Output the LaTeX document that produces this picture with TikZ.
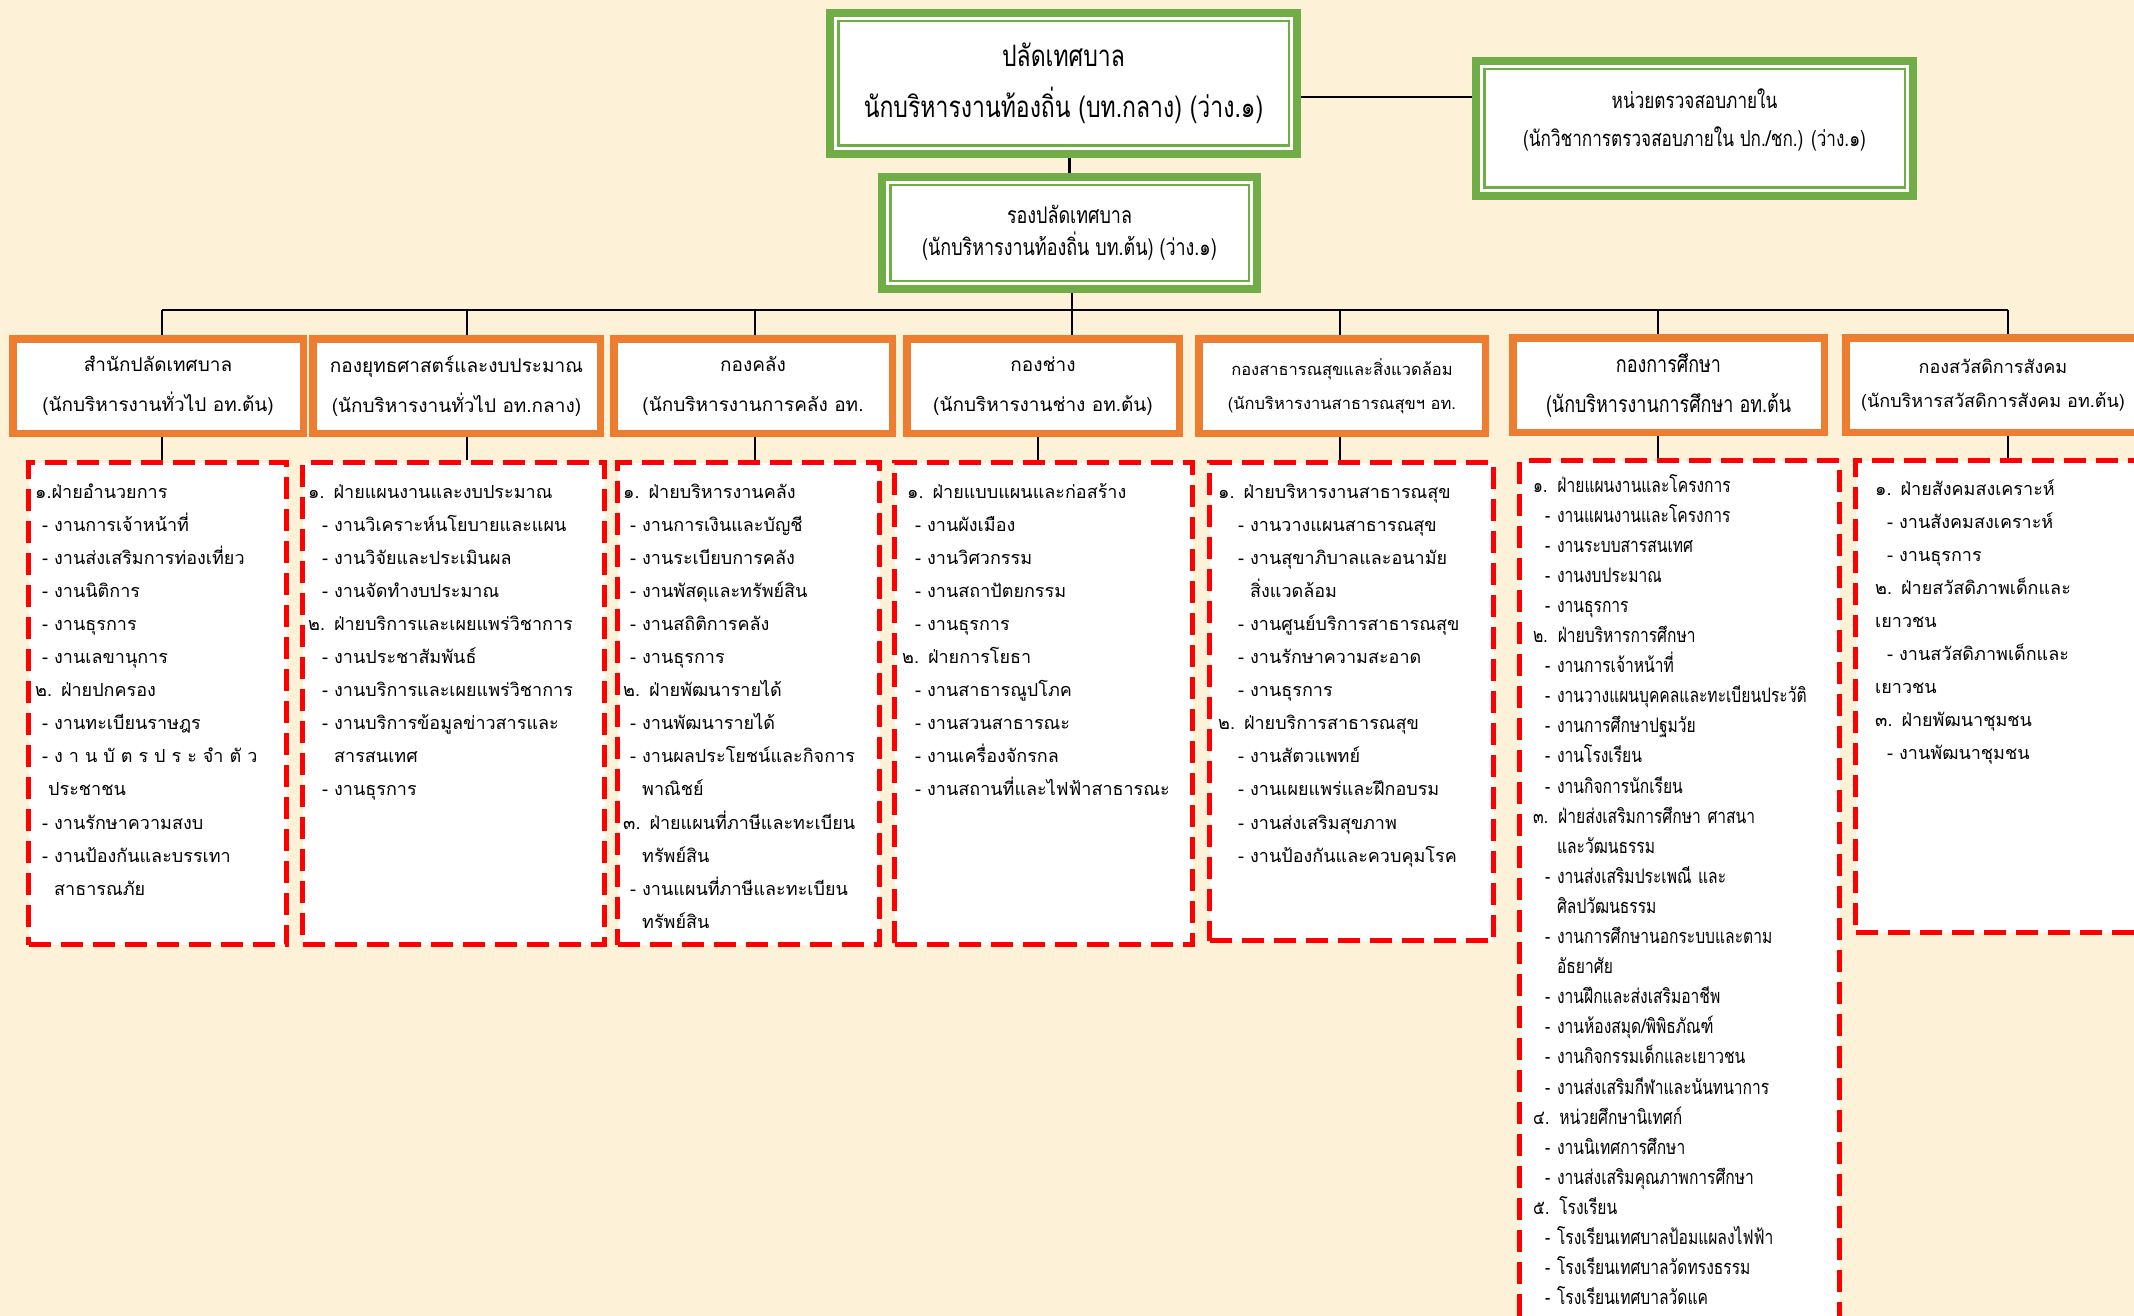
\documentclass[tikz,border=0pt]{standalone}
\usepackage{fontspec}
\newfontfamily\thaifont[Script=Thai]{Loma}
\newfontfamily\thainarrow[Script=Thai,FakeStretch=0.78]{Loma}
\usetikzlibrary{positioning}
\definecolor{greenframe}{RGB}{112,173,71}
\definecolor{orangeframe}{RGB}{237,125,49}
\definecolor{redframe}{RGB}{255,0,0}
\definecolor{parchment}{RGB}{253,242,215}
\newlength{\subind}
\newcommand{\ngan}[1]{\hspace*{\subind}- #1}
\newcommand{\tor}[1]{\hspace*{\subind}\phantom{- }#1}
\newcommand{\innerframe}[1]{\draw[innerline] ([xshift=12.25pt,yshift=-12.25pt]#1.north west) rectangle ([xshift=-12.25pt,yshift=12.25pt]#1.south east);}
\tikzstyle{greenbox} = [draw=greenframe, fill=white, line width=8pt, inner sep=0pt, align=center]
\tikzstyle{innerline} = [draw=greenframe, line width=2.5pt]
\tikzstyle{orangebox} = [draw=orangeframe, fill=white, line width=7.5pt, inner sep=0pt, align=center, minimum height=94.5pt, font=\thaifont\fontsize{19}{39.5}\selectfont]
\tikzstyle{dashbox} = [draw=redframe, fill=white, line width=5pt, dash pattern=on 22pt off 10pt, anchor=north west]
\tikzstyle{link} = [line width=2.5pt]
\tikzset{liste/.style={anchor=base west, inner sep=0pt, text width=330pt, align=left, font=\thaifont\fontsize{18}{33.1}\selectfont, execute at begin node={\setlength{\subind}{#1}}}}

\begin{document}
\begin{tikzpicture}[x=1pt, y=-1pt]
	\useasboundingbox (0,0) rectangle (2134,1316);
	\clip (0,0) rectangle (2134,1316);
	\fill[parchment] (0,0) rectangle (2134,1316);

	% upper management
	\node[greenbox, minimum width=467pt, minimum height=141pt, font=\thainarrow\fontsize{29.5}{51}\selectfont] (palad) at (1063.5,83.5) {ปลัดเทศบาล\\นักบริหารงานท้องถิ่น (บท.กลาง) (ว่าง.๑)};
	\node[greenbox, minimum width=437pt, minimum height=135pt] (audit) at (1694.5,128.5) {};
	\node[align=center, font=\thainarrow\fontsize{22}{38}\selectfont] (audittext) at ([yshift=9pt]audit.center) {หน่วยตรวจสอบภายใน\\(นักวิชาการตรวจสอบภายใน ปก./ชก.) (ว่าง.๑)};
	\node[greenbox, minimum width=375pt, minimum height=112pt, font=\thainarrow\fontsize{23}{32}\selectfont] (rong) at (1069.5,233) {รองปลัดเทศบาล\\(นักบริหารงานท้องถิ่น บท.ต้น) (ว่าง.๑)};
	\innerframe{palad}
	\innerframe{audit}
	\innerframe{rong}

	% divisions
	\node[orangebox, minimum width=290.5pt] (h1) at (158,386) {สำนักปลัดเทศบาล\\(นักบริหารงานทั่วไป อท.ต้น)};
	\node[orangebox, minimum width=287.5pt] (h2) at (456.5,386) {กองยุทธศาสตร์และงบประมาณ\\(นักบริหารงานทั่วไป อท.กลาง)};
	\node[orangebox, minimum width=278.5pt] (h3) at (753,386) {กองคลัง\\(นักบริหารงานการคลัง อท.};
	\node[orangebox, minimum width=272.5pt] (h4) at (1043,386) {กองช่าง\\(นักบริหารงานช่าง อท.ต้น)};
	\node[orangebox, minimum width=286.5pt, font=\thaifont\fontsize{16.5}{34}\selectfont] (h5) at (1342,386) {กองสาธารณสุขและสิ่งแวดล้อม\\(นักบริหารงานสาธารณสุขฯ อท.};
	\node[orangebox, minimum width=311.5pt, font=\thainarrow\fontsize{23}{40}\selectfont] (h6) at (1668.5,385) {กองการศึกษา\\(นักบริหารงานการศึกษา อท.ต้น};
	\node[orangebox, minimum width=294.5pt, font=\thaifont\fontsize{18}{34}\selectfont] (h7) at (1993,385) {กองสวัสดิการสังคม\\(นักบริหารสวัสดิการสังคม อท.ต้น)};

	% sections
	\node[dashbox, minimum width=258pt, minimum height=482pt] (d1) at (26,460) {};
	\node[dashbox, minimum width=302pt, minimum height=482pt] (d2) at (300,460) {};
	\node[dashbox, minimum width=262pt, minimum height=482pt] (d3) at (615,460) {};
	\node[dashbox, minimum width=298pt, minimum height=482pt] (d4) at (892,460) {};
	\node[dashbox, minimum width=284pt, minimum height=478pt] (d5) at (1207,460) {};
	\node[dashbox, minimum width=320pt, minimum height=895pt] (d6) at (1517,458) {};
	\node[dashbox, minimum width=295pt, minimum height=472pt] (d7) at (1853,458) {};

	\node[liste=7pt] (l1) at ([xshift=9pt,yshift=-38pt]d1.north west) {%
		๑.ฝ่ายอำนวยการ\\
		\ngan{งานการเจ้าหน้าที่}\\
		\ngan{งานส่งเสริมการท่องเที่ยว}\\
		\ngan{งานนิติการ}\\
		\ngan{งานธุรการ}\\
		\ngan{งานเลขานุการ}\\
		๒. ฝ่ายปกครอง\\
		\ngan{งานทะเบียนราษฎร}\\
		\ngan{\makebox[213pt][s]{ง า น บั ต ร ป ร ะ จำ ตั ว}}\\
		\hspace*{13pt}ประชาชน\\
		\ngan{งานรักษาความสงบ}\\
		\ngan{งานป้องกันและบรรเทา}\\
		\tor{สาธารณภัย}};
	\node[liste=14pt] (l2) at ([xshift=8pt,yshift=-38pt]d2.north west) {%
		๑. ฝ่ายแผนงานและงบประมาณ\\
		\ngan{งานวิเคราะห์นโยบายและแผน}\\
		\ngan{งานวิจัยและประเมินผล}\\
		\ngan{งานจัดทำงบประมาณ}\\
		๒. ฝ่ายบริการและเผยแพร่วิชาการ\\
		\ngan{งานประชาสัมพันธ์}\\
		\ngan{งานบริการและเผยแพร่วิชาการ}\\
		\ngan{งานบริการข้อมูลข่าวสารและ}\\
		\tor{สารสนเทศ}\\
		\ngan{งานธุรการ}};
	\node[liste=7pt] (l3) at ([xshift=8pt,yshift=-38pt]d3.north west) {%
		๑. ฝ่ายบริหารงานคลัง\\
		\ngan{งานการเงินและบัญชี}\\
		\ngan{งานระเบียบการคลัง}\\
		\ngan{งานพัสดุและทรัพย์สิน}\\
		\ngan{งานสถิติการคลัง}\\
		\ngan{งานธุรการ}\\
		๒. ฝ่ายพัฒนารายได้\\
		\ngan{งานพัฒนารายได้}\\
		\ngan{งานผลประโยชน์และกิจการ}\\
		\tor{พาณิชย์}\\
		๓. ฝ่ายแผนที่ภาษีและทะเบียน\\
		\tor{ทรัพย์สิน}\\
		\ngan{งานแผนที่ภาษีและทะเบียน}\\
		\tor{ทรัพย์สิน}};
	\node[liste=13pt] (l4) at ([xshift=10pt,yshift=-38pt]d4.north west) {%
		\hspace*{5pt}๑. ฝ่ายแบบแผนและก่อสร้าง\\
		\ngan{งานผังเมือง}\\
		\ngan{งานวิศวกรรม}\\
		\ngan{งานสถาปัตยกรรม}\\
		\ngan{งานธุรการ}\\
		๒. ฝ่ายการโยธา\\
		\ngan{งานสาธารณูปโภค}\\
		\ngan{งานสวนสาธารณะ}\\
		\ngan{งานเครื่องจักรกล}\\
		\ngan{งานสถานที่และไฟฟ้าสาธารณะ}};
	\node[liste=20pt] (l5) at ([xshift=11pt,yshift=-38pt]d5.north west) {%
		๑. ฝ่ายบริหารงานสาธารณสุข\\
		\ngan{งานวางแผนสาธารณสุข}\\
		\ngan{งานสุขาภิบาลและอนามัย}\\
		\tor{สิ่งแวดล้อม}\\
		\ngan{งานศูนย์บริการสาธารณสุข}\\
		\ngan{งานรักษาความสะอาด}\\
		\ngan{งานธุรการ}\\
		๒. ฝ่ายบริการสาธารณสุข\\
		\ngan{งานสัตวแพทย์}\\
		\ngan{งานเผยแพร่และฝึกอบรม}\\
		\ngan{งานส่งเสริมสุขภาพ}\\
		\ngan{งานป้องกันและควบคุมโรค}};
	\node[liste=12pt, font=\thainarrow\fontsize{20}{30.1}\selectfont] (l6) at ([xshift=16pt,yshift=-34pt]d6.north west) {%
		๑. ฝ่ายแผนงานและโครงการ\\
		\ngan{งานแผนงานและโครงการ}\\
		\ngan{งานระบบสารสนเทศ}\\
		\ngan{งานงบประมาณ}\\
		\ngan{งานธุรการ}\\
		๒. ฝ่ายบริหารการศึกษา\\
		\ngan{งานการเจ้าหน้าที่}\\
		\ngan{งานวางแผนบุคคลและทะเบียนประวัติ}\\
		\ngan{งานการศึกษาปฐมวัย}\\
		\ngan{งานโรงเรียน}\\
		\ngan{งานกิจการนักเรียน}\\
		๓. ฝ่ายส่งเสริมการศึกษา ศาสนา\\
		\tor{และวัฒนธรรม}\\
		\ngan{งานส่งเสริมประเพณี และ}\\
		\tor{ศิลปวัฒนธรรม}\\
		\ngan{งานการศึกษานอกระบบและตาม}\\
		\tor{อัธยาศัย}\\
		\ngan{งานฝึกและส่งเสริมอาชีพ}\\
		\ngan{งานห้องสมุด/พิพิธภัณฑ์}\\
		\ngan{งานกิจกรรมเด็กและเยาวชน}\\
		\ngan{งานส่งเสริมกีฬาและนันทนาการ}\\
		๔. หน่วยศึกษานิเทศก์\\
		\ngan{งานนิเทศการศึกษา}\\
		\ngan{งานส่งเสริมคุณภาพการศึกษา}\\
		๕. โรงเรียน\\
		\ngan{โรงเรียนเทศบาลป้อมแผลงไฟฟ้า}\\
		\ngan{โรงเรียนเทศบาลวัดทรงธรรม}\\
		\ngan{โรงเรียนเทศบาลวัดแค}};
	\node[liste=12pt] (l7) at ([xshift=22pt,yshift=-37pt]d7.north west) {%
		๑. ฝ่ายสังคมสงเคราะห์\\
		\ngan{งานสังคมสงเคราะห์}\\
		\ngan{งานธุรการ}\\
		๒. ฝ่ายสวัสดิภาพเด็กและ\\
		เยาวชน\\
		\ngan{งานสวัสดิภาพเด็กและ}\\
		เยาวชน\\
		๓. ฝ่ายพัฒนาชุมชน\\
		\ngan{งานพัฒนาชุมชน}};

	% connectors
	\draw[link] ([yshift=-13.5pt]palad.east) -- ([yshift=-13.5pt]palad.east -| audit.west);
	\draw[link] (palad.south -| rong.north) -- (rong.north);
	\foreach \n/\x in {1/162, 2/467, 3/755, 4/1072, 5/1340, 6/1658, 7/2008}
		\coordinate (b\n) at (\x,310);
	\draw[link] (b1) -- (b7);
	\draw[link] (rong.south -| b4) -- (b4);
	\foreach \n in {1,...,7}
		\draw[link] (b\n) -- (b\n |- h\n.north);
	\foreach \n/\x in {1/162, 2/467, 3/755, 4/1038, 5/1340, 6/1658, 7/2008} {
		\coordinate (k\n) at (\x,0);
		\draw[link] (h\n.south -| k\n) -- (d\n.north -| k\n);
	}
\end{tikzpicture}
\end{document}
